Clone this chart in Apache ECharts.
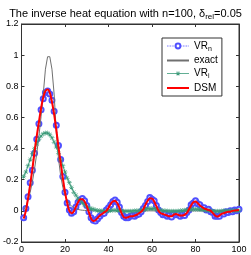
<!DOCTYPE html>
<html><head><meta charset="utf-8">
<script src="https://cdn.jsdelivr.net/npm/echarts@6/dist/echarts.min.js"></script>
<style>html,body{margin:0;padding:0;background:#fff}#c{width:251px;height:255px}</style>
</head><body><div id="c"></div>
<script>
var xTicks = [0, 20, 40, 60, 80, 100];
var yTicks = [-0.2, 0, 0.2, 0.4, 0.6, 0.8, 1, 1.2];
var exact = [0.0075,0.03,0.0675,0.12,0.1875,0.27,0.3675,0.48,0.6075,0.75,0.91,0.99,0.99,0.91,0.75,0.503,0.337,0.226,0.151,0.101,0.068,0.045,0.030,0.020,0.014,0.009,0.006,0.004,0.003,0.002,0.0012,0.0008,0.0005,0.0004,0.0002,0.0002,0.0001,0.0001,0,0,0,0,0,0,0,0,0,0,0,0,0,0,0,0,0,0,0,0,0,0,0,0,0,0,0,0,0,0,0,0,0,0,0,0,0,0,0,0,0,0,0,0,0,0,0,0,0,0,0,0,0,0,0,0,0,0,0,0,0,0];
var dsm = [-0.05,0.00,0.08,0.17,0.27,0.38,0.48,0.57,0.66,0.73,0.77,0.78,0.76,0.70,0.62,0.52,0.41,0.31,0.21,0.12,0.05,0.00,-0.015,-0.005,0.025,0.055,0.075,0.075,0.06,0.03,-0.01,-0.05,-0.065,-0.06,-0.045,-0.03,-0.02,-0.01,0.00,0.02,0.045,0.06,0.065,0.05,0.02,-0.015,-0.04,-0.045,-0.04,-0.035,-0.035,-0.03,-0.025,-0.015,-0.005,0.01,0.04,0.065,0.08,0.08,0.06,0.03,0.00,-0.015,-0.02,-0.025,-0.03,-0.035,-0.035,-0.025,-0.02,-0.025,-0.03,-0.03,-0.025,-0.015,0.01,0.035,0.055,0.06,0.05,0.035,0.025,0.015,0.01,0.005,0.0,-0.015,-0.03,-0.037,-0.03,-0.02,-0.015,-0.01,-0.005,-0.005,0.0,0.002,0.004,0.005];
var vrn = [-0.045,0.015,0.09,0.18,0.26,0.37,0.46,0.56,0.65,0.72,0.76,0.77,0.75,0.71,0.64,0.55,0.42,0.33,0.22,0.12,0.05,0.005,-0.015,-0.005,0.025,0.055,0.07,0.08,0.065,0.035,-0.005,-0.045,-0.06,-0.065,-0.05,-0.035,-0.02,-0.015,0.005,0.02,0.04,0.06,0.07,0.055,0.025,-0.01,-0.035,-0.045,-0.045,-0.035,-0.03,-0.035,-0.025,-0.02,-0.005,0.015,0.035,0.06,0.085,0.075,0.065,0.035,0.005,-0.01,-0.025,-0.02,-0.035,-0.03,-0.04,-0.02,-0.025,-0.02,-0.035,-0.025,-0.03,-0.01,0.005,0.04,0.05,0.065,0.045,0.04,0.02,0.02,0.005,0.01,-0.005,-0.01,-0.035,-0.035,-0.035,-0.015,-0.02,-0.005,-0.01,0.0,-0.005,0.005,0.0,0.01];
var vri = [0.22,0.25,0.29,0.33,0.37,0.40,0.43,0.46,0.48,0.495,0.50,0.50,0.49,0.47,0.44,0.41,0.37,0.33,0.29,0.25,0.21,0.18,0.15,0.12,0.10,0.08,0.065,0.05,0.04,0.03,0.02,0.015,0.01,0.005,0.002,0.0,0.0,-0.002,-0.002,0.0,0.002,0.004,0.004,0.003,0.002,0.0,-0.002,-0.003,-0.003,-0.002,-0.002,0.0,0.0,0.002,0.004,0.007,0.01,0.013,0.015,0.015,0.013,0.01,0.007,0.004,0.002,0.0,-0.001,-0.002,-0.002,-0.002,-0.002,-0.001,0.0,0.002,0.004,0.006,0.008,0.01,0.011,0.011,0.01,0.009,0.007,0.005,0.004,0.002,0.0,-0.001,-0.002,-0.002,-0.002,-0.001,0.0,0.0,0.001,0.001,0.002,0.002,0.002,0.002];

function pairs(arr){ return arr.map(function(v,i){ return [i+1, v]; }); }
var font = 'Liberation Sans, Arial, sans-serif';
var star = 'path://M4.5,0h1v10h-1z M0,4.5h10v1h-10z M1,1.7l0.7,-0.7l7.3,7.3l-0.7,0.7z M9,1.7l-0.7,-0.7l-7.3,7.3l0.7,0.7z';
var axisCol = '#333';
function fmtY(v){ return String(Math.round(v*10)/10); }

var chart = echarts.init(document.getElementById('c'), null, {renderer:'canvas'});
chart.setOption({
  animation: false,
  backgroundColor: '#fff',
  title: {
    text: 'The inverse heat equation with n=100, δ{s|rel}=0.05',
    left: 'center', top: 1,
    textStyle: {fontFamily: font, fontSize: 11, fontWeight: 'normal', color: '#000',
      rich: {s: {fontFamily: font, fontSize: 8, color:'#000', padding:[7,0,0,0]}}}
  },
  grid: {left: 20, right: 12, top: 24, bottom: 13, show: true, borderColor: axisCol, borderWidth: 1},
  legend: {
    orient: 'vertical', left: 162, top: 38, width: 58,
    backgroundColor: '#fff', borderColor: axisCol, borderWidth: 1,
    padding: [3, 4, 3, 4], itemGap: 3, itemWidth: 22, itemHeight: 6,
    data: [
      {name: 'VRn', lineStyle: {width: 0.8}},
      {name: 'exact', itemStyle: {opacity: 0}},
      {name: 'VRi', lineStyle: {width: 0.8}},
      {name: 'DSM', itemStyle: {opacity: 0}}
    ],
    formatter: function(n){
      if (n === 'VRn') return '{a|VR}{s|n}';
      if (n === 'VRi') return '{a|VR}{s|i}';
      return '{a|' + n + '}';
    },
    textStyle: {fontFamily: font, fontSize: 10, color: '#000',
      rich: {a: {fontFamily: font, fontSize: 10, color: '#000'},
             s: {fontFamily: font, fontSize: 7, color: '#000', padding: [6,0,0,0]}}}
  },
  xAxis: [{
    type: 'value', min: 0, max: 100, interval: 20, position: 'bottom',
    axisLine: {onZero: false, lineStyle: {color: axisCol}}, axisTick: {inside: true, length: 3, lineStyle:{color:axisCol}},
    axisLabel: {fontFamily: font, fontSize: 9, color: '#000', margin: 3},
    splitLine: {show: false}
  },{
    type: 'value', min: 0, max: 100, interval: 20, position: 'top',
    axisLine: {onZero: false, lineStyle: {color: axisCol}}, axisTick: {inside: true, length: 3, lineStyle:{color:axisCol}},
    axisLabel: {show: false}, splitLine: {show: false}
  }],
  yAxis: [{
    type: 'value', min: -0.2, max: 1.2, interval: 0.2, position: 'left',
    axisLine: {show: true, onZero: false, lineStyle: {color: axisCol}}, axisTick: {show: true, inside: true, length: 3, lineStyle:{color:axisCol}},
    axisLabel: {fontFamily: font, fontSize: 9, color: '#000', margin: 3, formatter: fmtY},
    splitLine: {show: false}
  },{
    type: 'value', min: -0.2, max: 1.2, interval: 0.2, position: 'right',
    axisLine: {show: true, onZero: false, lineStyle: {color: axisCol}}, axisTick: {show: true, inside: true, length: 3, lineStyle:{color:axisCol}},
    axisLabel: {show: false}, splitLine: {show: false}
  }],
  series: [
    {name: 'VRn', type: 'line', data: pairs(vrn), symbol: 'emptyCircle', symbolSize: 5,
     lineStyle: {color: '#3030ff', width: 0.8, type: 'dotted'},
     itemStyle: {color: '#5050ff', borderColor: '#5050ff', borderWidth: 0.8}, z: 2},
    {name: 'exact', type: 'line', data: pairs(exact), symbol: 'none',
     lineStyle: {color: '#707070', width: 1}, itemStyle: {color: '#707070'}, z: 3},
    {name: 'VRi', type: 'line', data: pairs(vri), symbol: star, symbolSize: 5,
     lineStyle: {color: '#3a9a78', width: 1}, itemStyle: {color: '#3a9a78'}, z: 4},
    {name: 'DSM', type: 'line', data: pairs(dsm), symbol: 'none', smooth: 0.3,
     lineStyle: {color: '#ff0000', width: 2}, itemStyle: {color: '#ff0000'}, z: 5}
  ]
});
</script></body></html>
